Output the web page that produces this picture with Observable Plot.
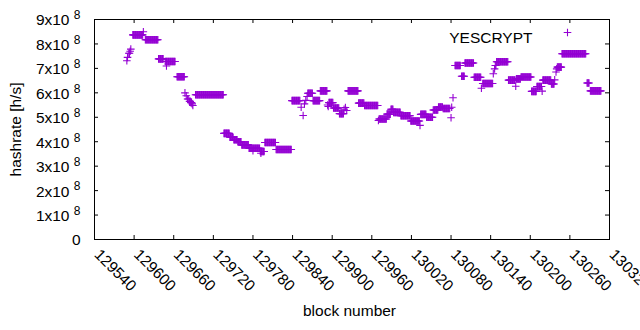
<!DOCTYPE html>
<html>
<head>
<meta charset="utf-8">
<script src="https://cdn.jsdelivr.net/npm/d3@7"></script>
<script src="https://cdn.jsdelivr.net/npm/@observablehq/plot@0.6"></script>
<style>
  html, body { margin: 0; padding: 0; background: #fff; }
  #chart { width: 640px; height: 330px; }
</style>
</head>
<body>
<div id="chart"></div>
<script>
// Runs of consecutive blocks sharing a hashrate value
const runStart = [
  129589,129590,129592,129594,129595,129598,129614,129617,129637,129647,
  129649,129665,129677,129679,129681,129684,129686,129688,129689,129693,
  129736,129745,129751,129757,129763,129774,129780,129791,129792,129798,
  129815,129839,129853,129856,129858,129860,129862,129863,129871,129882,
  129893,129894,129895,129902,129911,129918,129920,129922,129924,129940,
  129949,129970,129971,129983,129989,129993,130004,130019,130033,130034,
  130043,130053,130061,130068,130080,130081,130083,130086,130096,130101,
  130115,130126,130128,130144,130146,130147,130149,130167,130178,130179,
  130186,130202,130210,130218,130219,130232,130237,130239,130240,130241,
  130248,130286,130291
];
const runEnd = [
  129589,129590,129593,129594,129595,129613,129614,129636,129644,129662,
  129649,129676,129677,129679,129682,129685,129687,129688,129689,129735,
  129744,129750,129756,129762,129773,129790,129780,129797,129792,129814,
  129838,129851,129853,129856,129858,129860,129862,129870,129881,129892,
  129893,129894,129901,129910,129917,129918,129920,129922,129939,129948,
  129969,129970,129982,129988,129992,130003,130018,130032,130033,130042,
  130052,130060,130067,130078,130080,130081,130083,130094,130100,130114,
  130125,130126,130143,130144,130146,130148,130166,130177,130178,130185,
  130201,130209,130217,130218,130231,130236,130237,130239,130240,130247,
  130284,130289,130307
];
// hashrate in units of 1e8 h/s
const runValue = [
  7.31,7.45,7.62,7.70,7.79,8.37,8.50,8.17,7.39,7.28,
  7.10,6.66,6.00,5.88,5.75,5.65,5.60,5.55,5.48,5.92,
  4.34,4.18,4.08,4.00,3.87,3.73,3.63,3.60,3.53,3.97,
  3.68,5.68,5.41,5.07,5.55,5.69,5.85,5.98,5.68,6.08,
  5.50,5.44,5.60,5.38,5.15,5.33,5.40,5.28,6.08,5.58,
  5.48,4.87,4.93,5.13,5.33,5.20,5.06,4.85,4.67,5.12,
  5.00,5.30,5.42,5.36,4.98,5.41,5.80,7.12,6.68,7.22,
  6.64,6.19,6.38,6.78,6.98,7.12,7.27,6.52,6.27,6.57,
  6.65,6.06,6.26,6.07,6.52,6.36,6.53,6.85,6.98,7.05,
  7.60,6.40,6.08
];
const xTicks = [129540,129600,129660,129720,129780,129840,129900,129960,130020,130080,130140,130200,130260,130320];
const yTicks = [0,1e8,2e8,3e8,4e8,5e8,6e8,7e8,8e8,9e8];
const seriesName = "YESCRYPT";
const xLabel = "block number";
const yLabel = "hashrate [h/s]";

const color = "#9400d3";
const points = [];
runStart.forEach((s, i) => {
  for (let b = s; b <= runEnd[i]; b++) points.push({block: b, hashrate: runValue[i] * 1e8});
});

// gnuplot-style "+" point: half-length equals the dot radius
const plusSymbol = {
  draw(ctx, size) {
    const r = Math.sqrt(size / Math.PI);
    ctx.moveTo(-r, 0); ctx.lineTo(r, 0);
    ctx.moveTo(0, -r); ctx.lineTo(0, r);
  }
};

const W = 640, H = 330, mL = 94, mR = 31, mT = 19, mB = 91;
const fw = W - mL - mR, fh = H - mT - mB;
const tl = 4;
const pr = 3.8;

const chart = Plot.plot({
  width: W, height: H,
  marginLeft: mL, marginRight: mR, marginTop: mT, marginBottom: mB,
  style: {fontFamily: "'Liberation Sans', Arial, sans-serif", fontSize: "15.5px", color: "#000", background: "#fff", overflow: "visible"},
  x: {domain: [129540, 130320], axis: null},
  y: {domain: [0, 9e8], axis: null},
  marks: [
    Plot.tickY(yTicks, {y: d => d, stroke: "#000", insetRight: fw - tl}),
    Plot.tickY(yTicks, {y: d => d, stroke: "#000", insetLeft: fw - tl}),
    Plot.tickX(xTicks, {x: d => d, stroke: "#000", insetTop: fh - tl}),
    Plot.tickX(xTicks, {x: d => d, stroke: "#000", insetBottom: fh - tl}),
    Plot.frame({stroke: "#000", strokeWidth: 1}),
    Plot.dot(points, {x: "block", y: "hashrate", symbol: plusSymbol, r: pr, fill: "none", stroke: color, strokeWidth: 1.1}),
    Plot.text(yTicks.filter(v => v > 0), {y: d => d, text: d => `${d / 1e8}x10`, frameAnchor: "left", textAnchor: "end", dx: -25, dy: 1, fill: "#000"}),
    Plot.text(yTicks.filter(v => v > 0), {y: d => d, text: () => "8", frameAnchor: "left", textAnchor: "end", dx: -14, dy: -4, fontSize: 12, fill: "#000"}),
    Plot.text(yTicks.filter(v => v === 0), {y: d => d, text: d => String(d), frameAnchor: "left", textAnchor: "end", dx: -14, dy: 1, fill: "#000"}),
    Plot.text(xTicks, {x: d => d, text: d => String(d), frameAnchor: "bottom", rotate: 45, textAnchor: "start", lineAnchor: "middle", dx: 2.5, dy: 12.5, fill: "#000"}),
    Plot.text([yLabel], {text: d => d, frameAnchor: "left", rotate: -90, textAnchor: "middle", dx: -78, fill: "#000"}),
    Plot.text([xLabel], {text: d => d, frameAnchor: "bottom", textAnchor: "middle", dx: -2.5, dy: 76, fill: "#000"}),
    Plot.text([seriesName], {text: d => d, frameAnchor: "top-right", textAnchor: "end", dx: -77, dy: 12.5, fill: "#000"}),
    Plot.dot([seriesName], {frameAnchor: "top-right", symbol: plusSymbol, r: pr, fill: "none", stroke: color, strokeWidth: 1.1, dx: -42, dy: 13})
  ]
});
document.getElementById("chart").appendChild(chart);
</script>
</body>
</html>
